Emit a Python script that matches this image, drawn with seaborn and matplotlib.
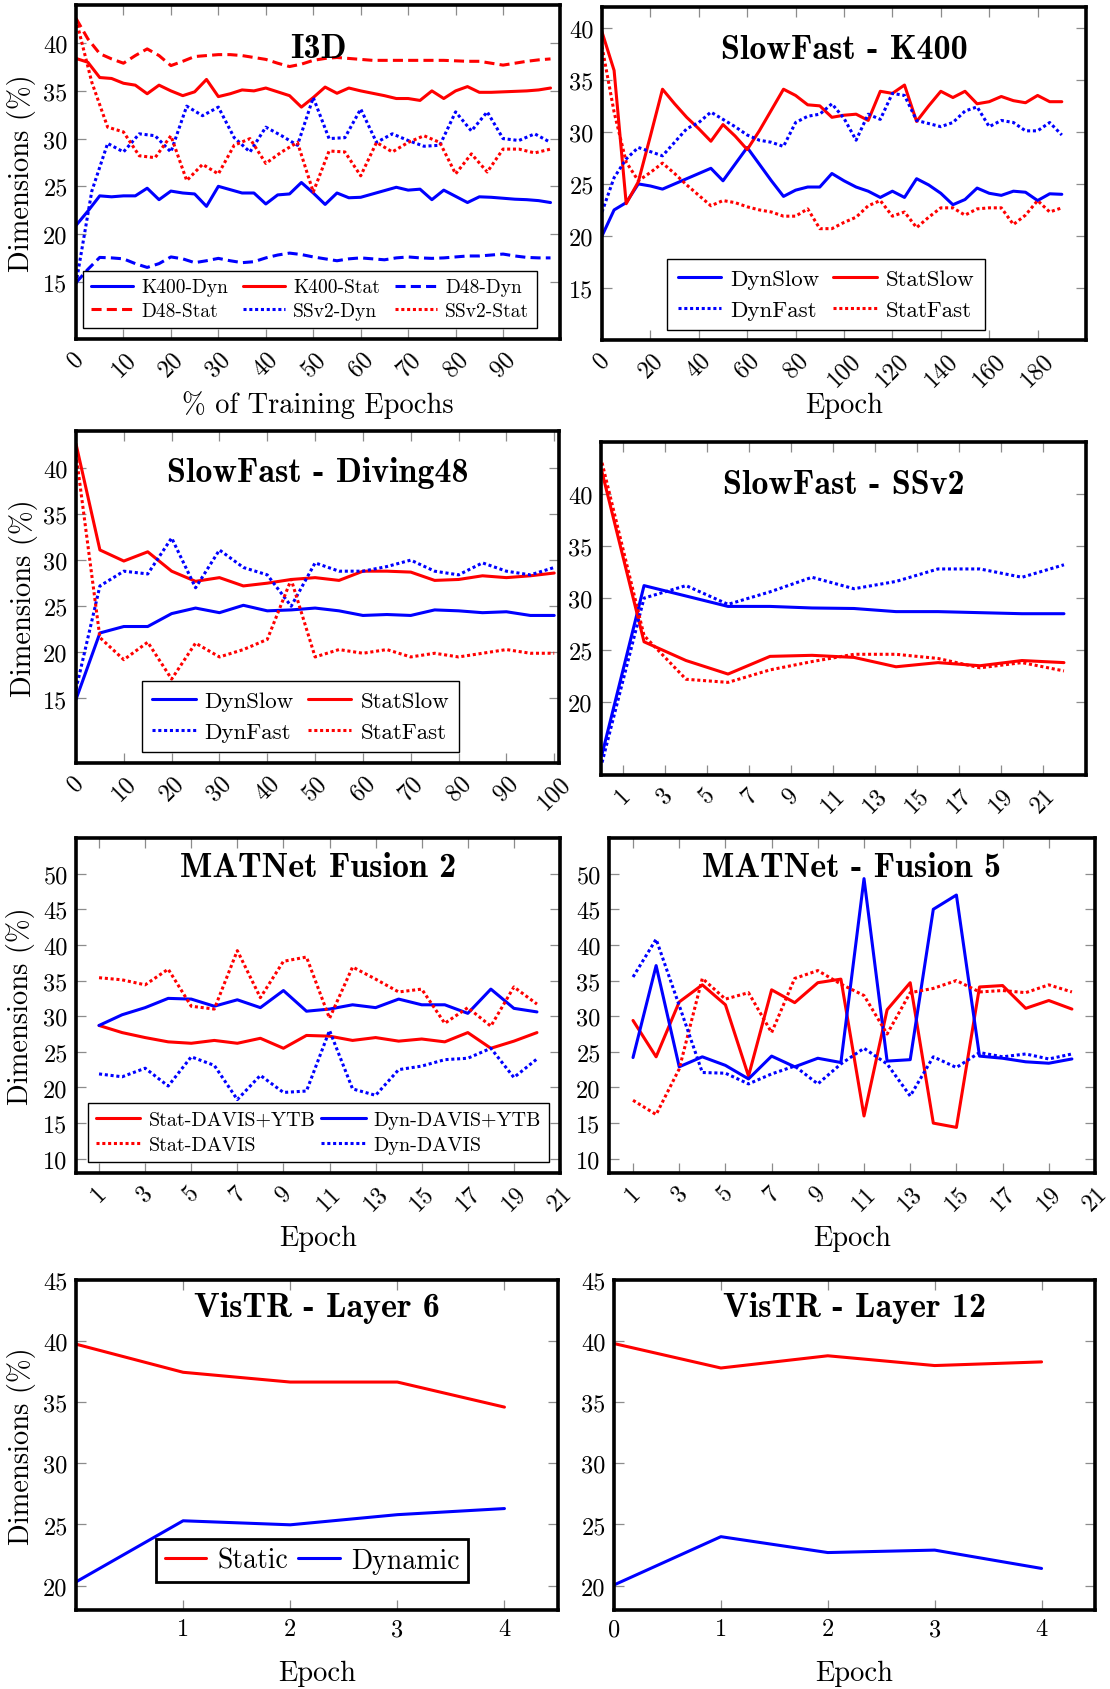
import numpy as np
import matplotlib
matplotlib.use("Agg")
import matplotlib.pyplot as plt
import seaborn as sns

sns.set_style("white")
plt.rcParams["font.family"] = ["cmr10", "DejaVu Serif"]
plt.rcParams["axes.formatter.use_mathtext"] = True
plt.rcParams["mathtext.fontset"] = "cm"
plt.rcParams["text.color"] = "black"
plt.rcParams["axes.labelcolor"] = "black"

RED = "#ff0000"
BLUE = "#0000ff"
SOLID = "-"
DASHED = (0, (3.3, 1.7))
DOTTED = (0, (1.0, 0.9))
LW = 2.2

# ---------------- I3D ----------------
i3d_x = np.arange(0, 100.1, 2.5)
i3d_ssv2_x = np.linspace(0, 100, 31)
i3d_k400_dyn = [20.9, 22.4, 24.0, 23.9, 24.0, 24.0, 24.8, 23.6, 24.5, 24.3,
                24.2, 22.9, 25.0, 24.65, 24.3, 24.3, 23.15, 24.1, 24.2, 25.4,
                24.3, 23.1, 24.3, 23.8, 23.85, 24.2, 24.55, 24.9, 24.6, 24.7,
                23.6, 24.6, 23.95, 23.3, 23.9, 23.85, 23.75, 23.65, 23.6, 23.5, 23.3]
i3d_k400_stat = [38.4, 38.0, 36.4, 36.3, 35.8, 35.6, 34.7, 35.6, 35.0, 34.5,
                 34.9, 36.2, 34.4, 34.7, 35.1, 35.0, 35.3, 34.9, 34.5, 33.3,
                 34.3, 35.4, 34.75, 35.3, 35.0, 34.75, 34.5, 34.2, 34.2, 34.0,
                 35.0, 34.2, 35.0, 35.45, 34.85, 34.85, 34.9, 34.95, 35.0, 35.1, 35.3]
i3d_d48_dyn = [14.9, 16.3, 17.55, 17.5, 17.4, 16.9, 16.5, 16.9, 17.6, 17.4,
               17.0, 17.2, 17.45, 17.2, 17.0, 17.1, 17.5, 17.8, 18.0, 17.85,
               17.6, 17.4, 17.2, 17.4, 17.5, 17.4, 17.3, 17.5, 17.6, 17.5,
               17.45, 17.5, 17.6, 17.7, 17.7, 17.8, 17.9, 17.7, 17.55, 17.5, 17.5]
i3d_d48_stat = [42.6, 40.45, 38.9, 38.35, 37.9, 38.7, 39.4, 38.7, 37.65, 38.1,
                38.6, 38.7, 38.8, 38.8, 38.7, 38.5, 38.3, 37.9, 37.55, 37.8,
                38.2, 38.4, 38.5, 38.4, 38.3, 38.2, 38.2, 38.2, 38.2, 38.2,
                38.2, 38.2, 38.15, 38.1, 38.1, 37.9, 37.7, 37.9, 38.1, 38.25, 38.35]
i3d_ssv2_dyn = [14.8, 24.5, 29.5, 28.6, 30.5, 30.3, 28.6, 33.4, 32.4, 33.3,
                30.1, 28.6, 31.2, 30.3, 29.3, 34.3, 30.0, 30.1, 33.1, 29.6,
                30.5, 29.8, 29.2, 29.3, 32.8, 30.8, 32.8, 30.0, 29.8, 30.5, 29.6]
i3d_ssv2_stat = [42.5, 35.9, 31.2, 30.7, 28.2, 28.0, 30.3, 25.6, 27.3, 26.3,
                 29.3, 30.0, 27.4, 28.6, 29.6, 24.4, 28.7, 28.6, 26.1, 29.6,
                 28.6, 29.6, 30.3, 29.6, 26.3, 28.4, 26.5, 28.9, 28.9, 28.5, 28.9]

# ---------------- SlowFast - K400 ----------------
sfk_x = np.arange(0, 191, 5)
sfk_dyn_slow = [20.0, 22.5, 23.2, 25.0, 24.8, 24.5, 25.0, 25.5, 26.0, 26.5,
                25.3, 26.9, 28.5, 26.9, 25.3, 23.8, 24.4, 24.7, 24.7, 26.0,
                25.3, 24.7, 24.3, 23.7, 24.3, 23.7, 25.5, 24.9, 24.1, 23.0,
                23.5, 24.6, 24.1, 23.9, 24.3, 24.2, 23.4, 24.05, 24.0]
sfk_stat_slow = [39.6, 35.9, 23.1, 25.2, 29.6, 34.1, 32.7, 31.4, 30.3, 29.1,
                 30.7, 29.6, 28.3, 30.1, 32.1, 34.1, 33.5, 32.6, 32.5, 31.4,
                 31.6, 31.7, 31.1, 33.9, 33.7, 34.5, 31.0, 32.5, 33.9, 33.3,
                 33.9, 32.7, 32.9, 33.4, 33.0, 32.8, 33.5, 32.9, 32.9]
sfk_dyn_fast = [22.3, 25.6, 27.4, 28.5, 28.1, 27.7, 29.0, 30.3, 30.9, 31.9,
                31.2, 30.5, 29.7, 29.2, 29.0, 28.6, 30.9, 31.5, 31.7, 32.7,
                31.3, 29.2, 31.7, 31.2, 33.7, 33.5, 31.1, 30.8, 30.5, 30.9,
                32.0, 32.4, 30.5, 31.1, 30.9, 30.1, 30.1, 30.9, 29.7]
sfk_stat_fast = [38.2, 31.9, 27.1, 25.3, 26.1, 27.0, 26.0, 24.9, 23.9, 22.9,
                 23.4, 23.2, 22.8, 22.5, 22.3, 21.9, 21.9, 22.6, 20.7, 20.7,
                 21.3, 21.8, 22.9, 23.4, 21.9, 22.3, 20.8, 21.8, 22.7, 22.7,
                 22.0, 22.6, 22.7, 22.7, 21.1, 22.0, 23.4, 22.3, 22.7]

# ---------------- SlowFast - Diving48 ----------------
sfd_x = np.arange(0, 101, 5)
sfd_dyn_slow = [14.9, 22.1, 22.8, 22.8, 24.2, 24.8, 24.3, 25.1, 24.5, 24.6, 24.8,
                24.5, 24.0, 24.1, 24.0, 24.6, 24.5, 24.3, 24.4, 24.0, 24.0]
sfd_stat_slow = [42.6, 31.1, 29.9, 30.9, 28.8, 27.7, 28.1, 27.2, 27.5, 27.9, 28.1,
                 27.8, 28.8, 28.8, 28.7, 27.8, 27.9, 28.3, 28.1, 28.3, 28.6]
sfd_dyn_fast = [16.0, 27.2, 28.8, 28.5, 32.4, 27.0, 31.1, 29.2, 28.4, 25.0, 29.7,
                28.8, 28.8, 29.3, 30.0, 28.8, 28.4, 29.7, 28.8, 28.4, 29.2]
sfd_stat_fast = [41.5, 21.6, 19.2, 21.1, 17.1, 21.0, 19.5, 20.3, 21.4, 27.9, 19.5,
                 20.3, 19.9, 20.3, 19.5, 19.9, 19.5, 19.9, 20.3, 19.9, 19.9]

# ---------------- SlowFast - SSv2 ----------------
sfs_x = np.arange(0, 23, 2)
sfs_dyn_slow = [15.0, 31.2, 30.2, 29.2, 29.2, 29.05, 29.0, 28.7, 28.7, 28.6, 28.5, 28.5]
sfs_stat_slow = [42.1, 25.8, 24.0, 22.7, 24.4, 24.5, 24.3, 23.4, 23.8, 23.5, 24.0, 23.8]
sfs_dyn_fast = [14.2, 30.0, 31.2, 29.4, 30.6, 32.0, 30.9, 31.6, 32.8, 32.8, 32.0, 33.2]
sfs_stat_fast = [43.0, 26.4, 22.2, 21.9, 23.1, 23.9, 24.6, 24.6, 24.2, 23.3, 23.8, 23.0]

# ---------------- MATNet ----------------
mat_x = np.arange(1, 21)
f2_stat_dy = [28.7, 27.7, 27.0, 26.4, 26.2, 26.6, 26.2, 26.9, 25.5, 27.3,
              27.2, 26.6, 27.0, 26.5, 26.8, 26.4, 27.7, 25.5, 26.5, 27.7]
f2_dyn_dy = [28.7, 30.2, 31.2, 32.5, 32.4, 31.4, 32.3, 31.2, 33.6, 30.7,
             31.0, 31.6, 31.2, 32.4, 31.6, 31.6, 30.4, 33.8, 31.1, 30.6]
f2_stat_d = [35.4, 35.1, 34.4, 36.6, 31.4, 31.0, 39.2, 32.6, 37.7, 38.3,
             29.7, 36.9, 35.2, 33.4, 33.8, 29.0, 31.2, 28.6, 34.1, 31.7]
f2_dyn_d = [21.9, 21.5, 22.7, 20.2, 24.3, 23.1, 18.3, 21.7, 19.3, 19.5,
            28.0, 19.8, 18.9, 22.5, 23.0, 23.9, 24.1, 25.5, 21.4, 24.0]

f5_stat_dy = [29.4, 24.3, 32.0, 34.4, 31.6, 21.6, 33.7, 31.9, 34.7, 35.2,
              16.0, 30.9, 34.7, 15.0, 14.4, 34.1, 34.3, 31.1, 32.2, 31.0]
f5_dyn_dy = [24.2, 37.1, 22.9, 24.3, 23.1, 21.2, 24.4, 22.9, 24.1, 23.5,
             49.3, 23.7, 23.9, 45.0, 47.0, 24.4, 24.1, 23.6, 23.4, 24.0]
f5_stat_d = [18.2, 16.2, 22.6, 35.3, 32.4, 33.3, 27.7, 35.3, 36.4, 34.5,
             32.9, 27.5, 33.3, 33.9, 35.0, 33.4, 33.6, 33.3, 34.4, 33.4]
f5_dyn_d = [35.5, 40.8, 31.5, 22.1, 22.0, 20.5, 21.9, 23.0, 20.5, 23.3,
            25.5, 23.3, 18.8, 24.3, 22.8, 24.9, 24.3, 24.7, 24.0, 24.7]

# ---------------- VisTR ----------------
vis_x = [0, 1, 2, 3, 4]
l6_static = [39.75, 37.45, 36.65, 36.65, 34.6]
l6_dynamic = [20.3, 25.3, 24.97, 25.8, 26.3]
l12_static = [39.8, 37.8, 38.8, 38.0, 38.3]
l12_dynamic = [20.05, 24.0, 22.7, 22.9, 21.4]

W, H = 1110, 1690
fig = plt.figure(figsize=(W / 100, H / 100), dpi=100)


def make_axes(x0, y0, x1, y1):
    return fig.add_axes([x0 / W, 1 - y1 / H, (x1 - x0) / W, (y1 - y0) / H])


def line(ax, x, y, color, ls, label=None):
    sns.lineplot(x=list(x), y=y, color=color, linestyle=ls, linewidth=LW,
                 ax=ax, label=label, legend=False)


def style(ax, xlim, ylim, xticks, yticks, title, title_y, rotate=True,
          xlabel=None, xlabel_y=-0.155, ylabel=False, ylabel_x=-0.083):
    ax.set_xlim(xlim)
    ax.set_ylim(ylim)
    ax.set_xticks(xticks)
    ax.set_yticks(yticks)
    ax.set_xticklabels([str(t) for t in xticks], rotation=45 if rotate else 0)
    ax.set_yticklabels([str(t) for t in yticks])
    ax.tick_params(direction="in", length=7, width=0.9, color="#8c8c8c",
                   labelcolor="black", top=True, right=True, bottom=True,
                   left=True, labelsize=17.5, pad=6)
    for s in ax.spines.values():
        s.set_visible(True)
        s.set_linewidth(2.6)
        s.set_color("black")
    ax.text(0.5, title_y, title, transform=ax.transAxes, ha="center",
            va="baseline", fontsize=24.5, family=["cmb10", "DejaVu Serif"])
    if xlabel:
        ax.set_xlabel(xlabel, fontsize=20.5)
        ax.xaxis.set_label_coords(0.5, xlabel_y)
    else:
        ax.set_xlabel("")
    if ylabel:
        ax.set_ylabel("Dimensions (%)", fontsize=20.5)
        ax.yaxis.set_label_coords(ylabel_x, 0.5)
    else:
        ax.set_ylabel("")


def legend(ax, order, ncol, anchor, fontsize, handlelength=2.0, frame_lw=1.0,
           colspacing=0.6, labelspacing=0.5, borderpad=0.45):
    lines = {l.get_label(): l for l in ax.get_lines()}
    handles = [lines[k] for k in order]
    leg = ax.legend(handles, order, ncol=ncol, loc="lower left",
                    bbox_to_anchor=anchor, fontsize=fontsize, frameon=True,
                    fancybox=False, framealpha=1, edgecolor="black",
                    handlelength=handlelength, handletextpad=0.4,
                    columnspacing=colspacing, borderpad=borderpad,
                    labelspacing=labelspacing, borderaxespad=0)
    leg.get_frame().set_linewidth(frame_lw)


# I3D
ax = make_axes(76, 6, 560, 340)
line(ax, i3d_x, i3d_k400_dyn, BLUE, SOLID, "K400-Dyn")
line(ax, i3d_x, i3d_k400_stat, RED, SOLID, "K400-Stat")
line(ax, i3d_x, i3d_d48_dyn, BLUE, DASHED, "D48-Dyn")
line(ax, i3d_x, i3d_d48_stat, RED, DASHED, "D48-Stat")
line(ax, i3d_ssv2_x, i3d_ssv2_dyn, BLUE, DOTTED, "SSv2-Dyn")
line(ax, i3d_ssv2_x, i3d_ssv2_stat, RED, DOTTED, "SSv2-Stat")
style(ax, (0, 102), (9, 44), list(range(0, 91, 10)), [15, 20, 25, 30, 35, 40],
      "I3D", 0.844, xlabel="% of Training Epochs", xlabel_y=-0.153,
      ylabel=True, ylabel_x=-0.083)
legend(ax, ["K400-Dyn", "D48-Stat", "K400-Stat", "SSv2-Dyn", "D48-Dyn", "SSv2-Stat"],
       3, (0.014, 0.033), 14, handlelength=2.2, labelspacing=0.3,
       borderpad=0.4, colspacing=0.75)

# SlowFast - K400
ax = make_axes(602, 8, 1086, 341)
line(ax, sfk_x, sfk_dyn_slow, BLUE, SOLID, "DynSlow")
line(ax, sfk_x, sfk_stat_slow, RED, SOLID, "StatSlow")
line(ax, sfk_x, sfk_dyn_fast, BLUE, DOTTED, "DynFast")
line(ax, sfk_x, sfk_stat_fast, RED, DOTTED, "StatFast")
style(ax, (0, 200), (10, 42), list(range(0, 181, 20)), [15, 20, 25, 30, 35, 40],
      "SlowFast - K400", 0.847, xlabel="Epoch", xlabel_y=-0.156)
legend(ax, ["DynSlow", "DynFast", "StatSlow", "StatFast"], 2, (0.135, 0.03), 16.5,
       handlelength=1.9, labelspacing=0.45)

# SlowFast - Diving48
ax = make_axes(76, 432, 559, 764)
line(ax, sfd_x, sfd_dyn_slow, BLUE, SOLID, "DynSlow")
line(ax, sfd_x, sfd_stat_slow, RED, SOLID, "StatSlow")
line(ax, sfd_x, sfd_dyn_fast, BLUE, DOTTED, "DynFast")
line(ax, sfd_x, sfd_stat_fast, RED, DOTTED, "StatFast")
style(ax, (0, 101), (8, 44), list(range(0, 101, 10)), [15, 20, 25, 30, 35, 40],
      "SlowFast - Diving48", 0.849, ylabel=True, ylabel_x=-0.079)
legend(ax, ["DynSlow", "DynFast", "StatSlow", "StatFast"], 2, (0.136, 0.033), 16.5,
       handlelength=1.9, labelspacing=0.45)

# SlowFast - SSv2
ax = make_axes(601, 443, 1086, 776)
line(ax, sfs_x, sfs_dyn_slow, BLUE, SOLID, "DynSlow")
line(ax, sfs_x, sfs_stat_slow, RED, SOLID, "StatSlow")
line(ax, sfs_x, sfs_dyn_fast, BLUE, DOTTED, "DynFast")
line(ax, sfs_x, sfs_stat_fast, RED, DOTTED, "StatFast")
style(ax, (-0.05, 23.05), (13, 45), list(range(1, 22, 2)), [20, 25, 30, 35, 40],
      "SlowFast - SSv2", 0.847)

# MATNet Fusion 2
ax = make_axes(76, 839, 560, 1174)
line(ax, mat_x, f2_stat_dy, RED, SOLID, "Stat-DAVIS+YTB")
line(ax, mat_x, f2_dyn_dy, BLUE, SOLID, "Dyn-DAVIS+YTB")
line(ax, mat_x, f2_stat_d, RED, DOTTED, "Stat-DAVIS")
line(ax, mat_x, f2_dyn_d, BLUE, DOTTED, "Dyn-DAVIS")
style(ax, (0, 20.92), (8, 55), list(range(1, 22, 2)), list(range(10, 51, 5)),
      "MATNet Fusion 2", 0.887, xlabel="Epoch", xlabel_y=-0.155,
      ylabel=True, ylabel_x=-0.085)
legend(ax, ["Stat-DAVIS+YTB", "Stat-DAVIS", "Dyn-DAVIS+YTB", "Dyn-DAVIS"], 2,
       (0.025, 0.033), 14.5, handlelength=2.2, colspacing=0.3, labelspacing=0.35,
       borderpad=0.4)

# MATNet - Fusion 5
ax = make_axes(609, 839, 1095, 1174)
line(ax, mat_x, f5_stat_dy, RED, SOLID)
line(ax, mat_x, f5_dyn_dy, BLUE, SOLID)
line(ax, mat_x, f5_stat_d, RED, DOTTED)
line(ax, mat_x, f5_dyn_d, BLUE, DOTTED)
style(ax, (-0.04, 21), (8, 55), list(range(1, 22, 2)), list(range(10, 51, 5)),
      "MATNet - Fusion 5", 0.887, xlabel="Epoch", xlabel_y=-0.155)

# VisTR - Layer 6
ax = make_axes(76, 1281, 558, 1611)
line(ax, vis_x, l6_static, RED, SOLID, "Static")
line(ax, vis_x, l6_dynamic, BLUE, SOLID, "Dynamic")
style(ax, (0, 4.5), (18, 45), [1, 2, 3, 4], [20, 25, 30, 35, 40, 45],
      "VisTR - Layer 6", 0.891, rotate=False, xlabel="Epoch", xlabel_y=-0.152,
      ylabel=True, ylabel_x=-0.084)
legend(ax, ["Static", "Dynamic"], 2, (0.167, 0.085), 20, handlelength=1.5,
       frame_lw=2.0, colspacing=0.35, labelspacing=0.3, borderpad=0.3)

# VisTR - Layer 12
ax = make_axes(614, 1281, 1095, 1611)
line(ax, vis_x, l12_static, RED, SOLID)
line(ax, vis_x, l12_dynamic, BLUE, SOLID)
style(ax, (0, 4.5), (18, 45), [0, 1, 2, 3, 4], [20, 25, 30, 35, 40, 45],
      "VisTR - Layer 12", 0.891, rotate=False, xlabel="Epoch", xlabel_y=-0.152)

fig.savefig("out.png", dpi=100, facecolor="white")
